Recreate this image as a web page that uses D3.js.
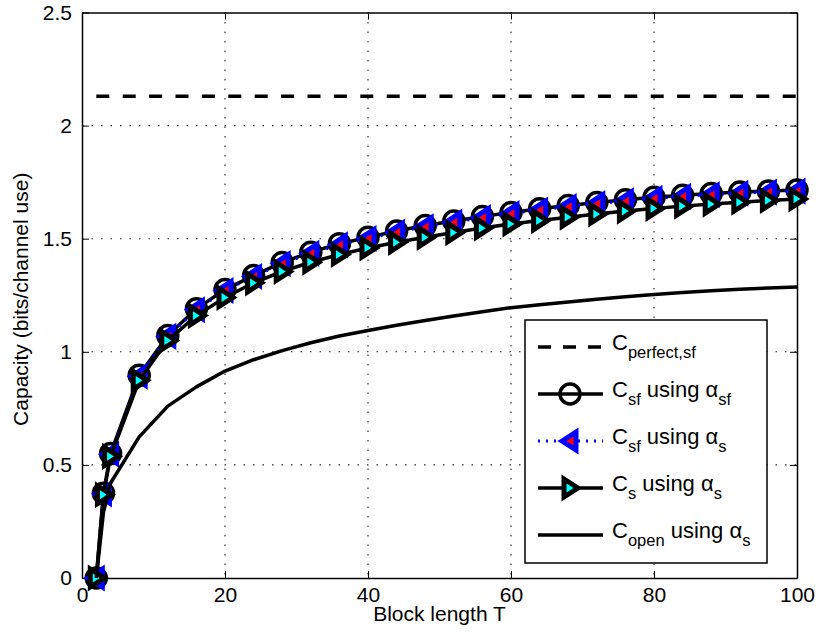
<!DOCTYPE html>
<html>
<head>
<meta charset="utf-8">
<script src="https://cdn.jsdelivr.net/npm/d3@7"></script>
<style>
  body { margin: 0; background: #fff; }
  svg text { font-family: "Liberation Sans", Arial, Helvetica, sans-serif; fill: #000; }
</style>
</head>
<body>
<svg id="chart" width="819" height="636"></svg>
<script>
/*** DATA ***/
var blockLength = [2, 3, 4, 8, 12, 16, 20, 24, 28, 32, 36, 40, 44, 48, 52, 56, 60, 64, 68, 72, 76, 80, 84, 88, 92, 96, 100];
var capPerfectSf = 2.13;
var capSfAlphaSf = [0, 0.375, 0.55, 0.896, 1.072, 1.19, 1.275, 1.337, 1.395, 1.44, 1.478, 1.506, 1.534, 1.558, 1.578, 1.598, 1.616, 1.632, 1.647, 1.66, 1.672, 1.683, 1.692, 1.7, 1.706, 1.711, 1.715];
var capSfAlphaS = [0, 0.372, 0.547, 0.892, 1.068, 1.186, 1.271, 1.333, 1.39, 1.435, 1.473, 1.501, 1.529, 1.553, 1.573, 1.593, 1.611, 1.627, 1.642, 1.655, 1.667, 1.678, 1.687, 1.695, 1.701, 1.706, 1.71];
var capSAlphaS = [0, 0.368, 0.538, 0.874, 1.05, 1.16, 1.24, 1.305, 1.355, 1.396, 1.43, 1.459, 1.484, 1.506, 1.527, 1.547, 1.565, 1.58, 1.595, 1.609, 1.622, 1.634, 1.644, 1.653, 1.661, 1.669, 1.676];
var capOpenAlphaS = [0, 0.29, 0.42, 0.624, 0.76, 0.845, 0.915, 0.965, 1.005, 1.04, 1.07, 1.094, 1.117, 1.138, 1.158, 1.177, 1.195, 1.208, 1.22, 1.232, 1.243, 1.253, 1.262, 1.27, 1.277, 1.282, 1.287];
var xTicks = [0, 20, 40, 60, 80, 100];
var yTicks = [0, 0.5, 1, 1.5, 2, 2.5];
var xLabel = 'Block length T';
var yLabel = 'Capacity (bits/channel use)';

var fontSize = 21;
var legendSize = 22;
var subSize = 16.5;
var margin = {top: 12.5, right: 22, bottom: 58, left: 82};
var width = 819 - margin.left - margin.right;
var height = 636 - margin.top - margin.bottom;

var svg = d3.select('#chart');
var g = svg.append('g').attr('transform', 'translate(' + margin.left + ',' + margin.top + ')');

var x = d3.scaleLinear().domain([0, 100]).range([0, width]);
var y = d3.scaleLinear().domain([0, 2.5]).range([height, 0]);

function toPoints(values) {
  return blockLength.map(function(t, i) { return {t: t, v: values[i]}; });
}

//marker shapes
function circleMarker(sel) {
  sel.append('circle').attr('r', 10)
    .attr('fill', 'none').attr('stroke', '#000').attr('stroke-width', 3.5);
}
function leftTriMarker(sel) {
  sel.append('path').attr('d', 'M-8,0L6,-9L6,9Z')
    .attr('fill', '#f00').attr('stroke', '#00f').attr('stroke-width', 5).attr('stroke-linejoin', 'miter');
}
function rightTriMarker(sel) {
  sel.append('path').attr('d', 'M8,0L-6,-9L-6,9Z')
    .attr('fill', '#0ff').attr('stroke', '#000').attr('stroke-width', 5).attr('stroke-linejoin', 'miter');
}

/*** GRID ***/
var grid = g.append('g').attr('class', 'grid')
  .attr('stroke', '#222').attr('stroke-width', 1.1).attr('stroke-dasharray', '1.5,8');
xTicks.slice(1, -1).forEach(function(t) {
  grid.append('line').attr('x1', x(t)).attr('x2', x(t)).attr('y1', 0).attr('y2', height);
});
yTicks.slice(1, -1).forEach(function(t) {
  grid.append('line').attr('x1', 0).attr('x2', width).attr('y1', y(t)).attr('y2', y(t));
});

/*** AXES ***/
function styleAxis(sel) {
  sel.attr('font-size', fontSize).attr('font-family', null);
  sel.select('.domain').attr('stroke-width', 1.5);
  sel.selectAll('.tick line').attr('stroke-width', 1);
}
g.append('g').attr('transform', 'translate(0,' + height + ')')
  .call(d3.axisBottom(x).tickValues(xTicks).tickSizeInner(-7).tickSizeOuter(0).tickPadding(9))
  .call(styleAxis);
g.append('g')
  .call(d3.axisLeft(y).tickValues(yTicks).tickSizeInner(-7).tickSizeOuter(0).tickPadding(10).tickFormat(function(d) { return d; }))
  .call(styleAxis);
g.append('g')
  .call(d3.axisTop(x).tickValues(xTicks).tickSizeInner(-7).tickSizeOuter(0).tickFormat(''))
  .call(styleAxis);
g.append('g').attr('transform', 'translate(' + width + ',0)')
  .call(d3.axisRight(y).tickValues(yTicks).tickSizeInner(-7).tickSizeOuter(0).tickFormat(''))
  .call(styleAxis);

/*** SERIES ***/
var line = d3.line().x(function(d) { return x(d.t); }).y(function(d) { return y(d.v); });

//perfect csi (constant)
g.append('path')
  .datum([{t: blockLength[0], v: capPerfectSf}, {t: blockLength[blockLength.length - 1], v: capPerfectSf}])
  .attr('d', line).attr('fill', 'none').attr('stroke', '#000')
  .attr('stroke-width', 3.5).attr('stroke-dasharray', '13,13.4');

function drawSeries(values, stroke, strokeWidth, dash, marker) {
  var pts = toPoints(values);
  g.append('path').datum(pts).attr('d', line)
    .attr('fill', 'none').attr('stroke', stroke).attr('stroke-width', strokeWidth)
    .attr('stroke-dasharray', dash).attr('stroke-linejoin', 'round');
  if (marker) {
    g.append('g').selectAll('g').data(pts).enter().append('g')
      .attr('transform', function(d) { return 'translate(' + x(d.t) + ',' + y(d.v) + ')'; })
      .each(function() { marker(d3.select(this)); });
  }
}
drawSeries(capSfAlphaSf, '#000', 3.5, null, circleMarker);
drawSeries(capSfAlphaS, '#00f', 3, '2,6', leftTriMarker);
drawSeries(capSAlphaS, '#000', 3.5, null, rightTriMarker);
drawSeries(capOpenAlphaS, '#000', 3.5, null, null);

/*** LABELS ***/
svg.append('text').attr('x', margin.left + width / 2).attr('y', 621)
  .attr('text-anchor', 'middle').attr('font-size', fontSize).text(xLabel);
svg.append('text').attr('transform', 'translate(28,' + (margin.top + height / 2 + 4) + ') rotate(-90)')
  .attr('text-anchor', 'middle').attr('font-size', fontSize).text(yLabel);

/*** LEGEND ***/
var legendItems = [
  {main: 'C', sub: 'perfect,sf', alphaSub: null, stroke: '#000', dash: '13,12', width: 3.5, marker: null},
  {main: 'C', sub: 'sf', alphaSub: 'sf', stroke: '#000', dash: null, width: 3.5, marker: circleMarker},
  {main: 'C', sub: 'sf', alphaSub: 's', stroke: '#00f', dash: '2,6', width: 3, marker: leftTriMarker},
  {main: 'C', sub: 's', alphaSub: 's', stroke: '#000', dash: null, width: 3.5, marker: rightTriMarker},
  {main: 'C', sub: 'open', alphaSub: 's', stroke: '#000', dash: null, width: 3.5, marker: null}
];
var legend = svg.append('g').attr('transform', 'translate(525,320)');
legend.append('rect').attr('width', 242).attr('height', 243)
  .attr('fill', '#fff').attr('stroke', '#000').attr('stroke-width', 1.5);

legendItems.forEach(function(item, i) {
  var row = legend.append('g').attr('transform', 'translate(0,' + (27 + i * 47) + ')');
  row.append('line').attr('x1', 13).attr('x2', 78).attr('y1', 0).attr('y2', 0)
    .attr('stroke', item.stroke).attr('stroke-width', item.width).attr('stroke-dasharray', item.dash);
  if (item.marker) {
    item.marker(row.append('g').attr('transform', 'translate(45,0)'));
  }
  var txt = row.append('text').attr('x', 87).attr('y', 3).attr('font-size', legendSize);
  txt.append('tspan').text(item.main);
  txt.append('tspan').attr('font-size', subSize).attr('dy', 8).text(item.sub);
  if (item.alphaSub) {
    txt.append('tspan').attr('dy', -8).text(' using \u03b1');
    txt.append('tspan').attr('font-size', subSize).attr('dy', 8).text(item.alphaSub);
  }
});
</script>
</body>
</html>
